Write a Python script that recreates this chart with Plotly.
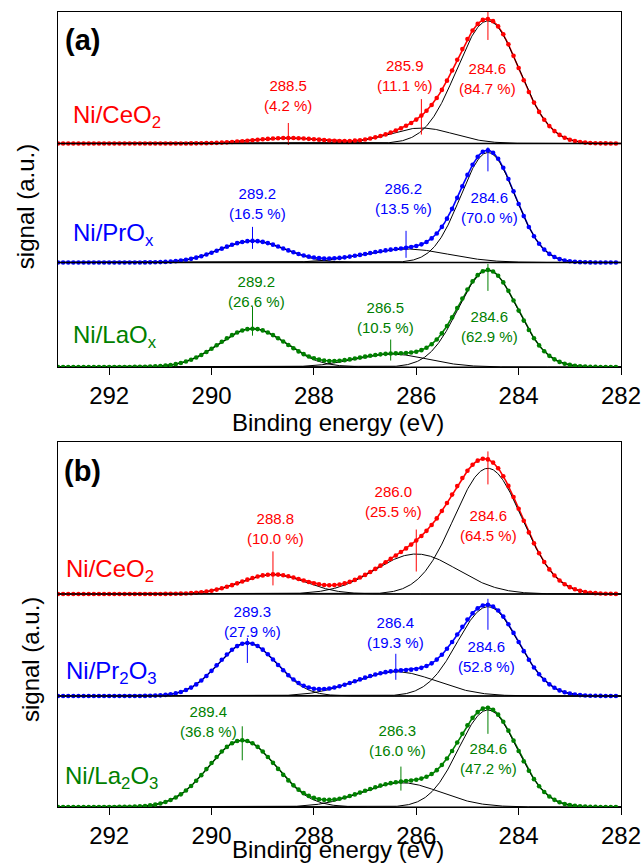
import numpy as np
import plotly.graph_objects as go

# ---------------- data ----------------
# measured energy grid (eV)
energy = np.round(np.arange(293.0, 282.05, -0.1), 1)

tick_vals = [292, 290, 288, 286, 284, 282]
tick_text = ["292", "290", "288", "286", "284", "282"]

samples_a = ["Ni/CeO<sub>2</sub>", "Ni/PrO<sub>x</sub>", "Ni/LaO<sub>x</sub>"]
samples_b = ["Ni/CeO<sub>2</sub>", "Ni/Pr<sub>2</sub>O<sub>3</sub>", "Ni/La<sub>2</sub>O<sub>3</sub>"]

# fitted components: centre (eV), share (%), height (a.u.), FWHM (eV)
a_centers = [[284.6, 285.9, 288.5], [284.6, 286.2, 289.2], [284.6, 286.5, 289.2]]
a_percent = [[84.7, 11.1, 4.2], [70.0, 13.5, 16.5], [62.9, 10.5, 26.6]]
a_heights = [[122.6, 15.5, 5.5], [110.0, 13.5, 21.6], [96.7, 13.0, 38.3]]
a_fwhm = [[1.43, 1.50, 1.60], [1.25, 1.96, 1.50], [1.36, 1.69, 1.55]]

b_centers = [[284.6, 286.0, 288.8], [284.6, 286.4, 289.3], [284.6, 286.3, 289.4]]
b_percent = [[64.5, 25.5, 10.0], [52.8, 19.3, 27.9], [47.2, 16.0, 36.8]]
b_heights = [[125.7, 40.0, 19.5], [89.3, 24.3, 53.0], [97.0, 24.3, 66.7]]
b_fwhm = [[1.56, 1.90, 1.50], [1.40, 1.88, 1.35], [1.34, 1.82, 1.55]]

# ---------------- layout / style ----------------
colors = ["#ff0000", "#0000ff", "#008000"]
FONT = "Arial, Liberation Sans, sans-serif"

panels = [
    dict(x="x", y="y", xa="xaxis", ya="yaxis", centers=a_centers, pct=a_percent,
         h=a_heights, w=a_fwhm, names=samples_a, offsets=[223.5, 104.5, 0.0],
         yrange=[0, 355], domain=[0.57474, 0.98610],
         name_pos=[(292.75, 250), (292.75, 132), (292.75, 30)],
         label_pos=[[(284.6, 288), (286.23, 291), (288.5, 271)],
                    [(284.57, 159), (286.25, 168), (289.1, 163)],
                    [(284.56, 40), (286.6, 49), (289.13, 75)]],
         label_anchor=[["center"] * 3] * 3,
         spans=[[(12, 21), (16.5, 19), (15, 7)],
                [(3, 21), (17, 10), (14, 8)],
                [(6, 21), (14, 7), (22, 7)]]),
    dict(x="x2", y="y2", xa="xaxis2", ya="yaxis2", centers=b_centers, pct=b_percent,
         h=b_heights, w=b_fwhm, names=samples_b, offsets=[213.0, 111.0, 0.0],
         yrange=[0, 365.3], domain=[0.06489, 0.48818],
         name_pos=[(292.88, 237), (292.88, 135), (292.9, 30)],
         label_pos=[[(284.58, 282), (286.45, 306), (288.76, 279)],
                    [(284.63, 151), (286.41, 175), (289.2, 186)],
                    [(284.58, 49), (286.37, 67), (289.47, 86)]],
         label_anchor=[["center"] * 3, ["center"] * 3, ["center", "center", "right"]],
         spans=[[(8, 25), (11, 31), (23, 11)],
                [(6, 25), (17, 9), (5, 20)],
                [(2, 26), (15, 9), (14, 20)]]),
]


def gauss(x, c, h, fw):
    s = fw / 2.3548
    return h * np.exp(-((x - c) ** 2) / (2 * s * s))


fine = np.linspace(293.0, 282.0, 1101)

fig = go.Figure()
shapes = []
annotations = []

for p in panels:
    for i in range(3):
        off = p["offsets"][i]
        col = colors[i]
        comps = [gauss(fine, c, h, fw) for c, h, fw in zip(p["centers"][i], p["h"][i], p["w"][i])]
        total = np.sum(comps, axis=0)
        pts = np.sum([gauss(energy, c, h, fw) for c, h, fw in
                      zip(p["centers"][i], p["h"][i], p["w"][i])], axis=0)
        # total fit
        fig.add_trace(go.Scatter(x=fine, y=off + total, mode="lines",
                                 line=dict(color=col, width=1.6), xaxis=p["x"], yaxis=p["y"],
                                 hoverinfo="skip"))
        # components
        for g in comps:
            fig.add_trace(go.Scatter(x=fine, y=off + g, mode="lines",
                                     line=dict(color="black", width=1), xaxis=p["x"], yaxis=p["y"],
                                     hoverinfo="skip"))
        # data points
        fig.add_trace(go.Scatter(x=energy, y=off + pts, mode="markers",
                                 marker=dict(color=col, size=4.6), xaxis=p["x"], yaxis=p["y"]))
        # peak markers + labels
        for k, (c, pc) in enumerate(zip(p["centers"][i], p["pct"][i])):
            tv = off + sum(gauss(c, cc, hh, ww) for cc, hh, ww in
                           zip(p["centers"][i], p["h"][i], p["w"][i]))
            up, dn = p["spans"][i][k]
            fig.add_trace(go.Scatter(x=[c, c], y=[tv + up, tv - dn], mode="lines",
                                     line=dict(color=col, width=1), xaxis=p["x"], yaxis=p["y"],
                                     hoverinfo="skip"))
            lx, ly = p["label_pos"][i][k]
            anc = p["label_anchor"][i][k]
            annotations.append(dict(x=lx, y=ly, xref=p["x"], yref=p["y"],
                                    text=f"{c:.1f}<br>({pc:.1f} %)", showarrow=False,
                                    xanchor=anc, yanchor="middle", align="center",
                                    font=dict(family=FONT, size=15, color=col)))
        # sample name
        nx, ny = p["name_pos"][i]
        annotations.append(dict(x=nx, y=ny, xref=p["x"], yref=p["y"], text=p["names"][i],
                                showarrow=False, xanchor="left", yanchor="middle",
                                font=dict(family=FONT, size=24, color=col)))
        # baseline separator
        if off > 0:
            shapes.append(dict(type="line", xref=p["x"] + " domain", yref=p["y"],
                               x0=0, x1=1, y0=off, y1=off,
                               line=dict(color="black", width=1.3)))

# axis titles and panel letters
for yc, ylab, letter, ylet, xt in [(0.511, 0.760, "(a)", 0.9537, -0.0586),
                                   (0.0162, 0.2352, "(b)", 0.4537, -0.0497)]:
    annotations.append(dict(x=0.497, y=yc, xref="paper", yref="paper",
                            text="Binding energy (eV)", showarrow=False,
                            xanchor="center", yanchor="middle",
                            font=dict(family=FONT, size=24, color="black")))
    annotations.append(dict(x=xt, y=ylab, xref="paper", yref="paper",
                            text="signal (a.u.)", textangle=-90, showarrow=False,
                            xanchor="center", yanchor="middle",
                            font=dict(family=FONT, size=24, color="black")))
    annotations.append(dict(x=0.0444, y=ylet, xref="paper", yref="paper",
                            text="<b>" + letter + "</b>", showarrow=False,
                            xanchor="center", yanchor="middle",
                            font=dict(family=FONT, size=29, color="black")))

xcommon = dict(range=[293, 282], tickvals=tick_vals, ticktext=tick_text, ticks="outside",
               ticklen=7, tickwidth=1.3, tickcolor="black", showline=True, linecolor="black",
               linewidth=1.3, mirror=True, showgrid=False, zeroline=False,
               tickfont=dict(family=FONT, size=24, color="black"), domain=[0, 1])
ycommon = dict(showticklabels=False, ticks="", showline=True, linecolor="black",
               linewidth=1.3, mirror=True, showgrid=False, zeroline=False)

layout = dict(width=644, height=863, margin=dict(l=58, r=23, t=0, b=0),
              plot_bgcolor="white", paper_bgcolor="white", showlegend=False,
              shapes=shapes, annotations=annotations)
for p in panels:
    layout[p["xa"]] = dict(xcommon, anchor=p["y"])
    layout[p["ya"]] = dict(ycommon, anchor=p["x"], range=p["yrange"], domain=p["domain"])

fig.update_layout(**layout)
fig.write_html("out.html", config={"displayModeBar": False},
               post_script="document.body.style.margin='0px';document.body.style.overflow='hidden';")
